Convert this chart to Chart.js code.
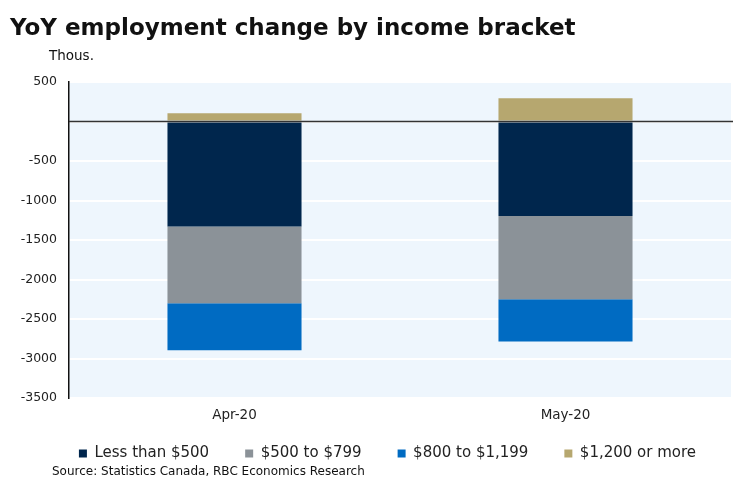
<!DOCTYPE html>
<html><head><meta charset="utf-8">
<script src="https://cdn.jsdelivr.net/npm/chart.js@4"></script>
<style>html,body{margin:0;padding:0;background:#fff;}canvas{display:block;}</style>
</head><body>
<canvas id="c" width="753" height="491"></canvas>
<script>
const categories = ["Apr-20", "May-20"];
const lessThan500 = [-1330, -1195];
const from500to799 = [-970, -1055];
const from800to1199 = [-595, -535];
const over1200 = [105, 293];
const yTicks = [500, 0, -500, -1000, -1500, -2000, -2500, -3000, -3500];

const FONT = "'DejaVu Sans', sans-serif";

const bgPlugin = {
  id: 'bg',
  beforeDraw(chart) {
    const {ctx, chartArea: a} = chart;
    ctx.save();
    ctx.fillStyle = '#EEF6FD';
    ctx.fillRect(a.left, a.top, a.right - a.left, a.bottom - a.top);
    ctx.restore();
  },
  afterDraw(chart) {
    const {ctx, chartArea: a, scales} = chart;
    ctx.save();
    const y0 = scales.y.getPixelForValue(0);
    ctx.strokeStyle = '#333';
    ctx.lineWidth = 1.5;
    ctx.beginPath(); ctx.moveTo(a.left, y0); ctx.lineTo(a.right + 2, y0); ctx.stroke();
    ctx.fillStyle = '#111';
    ctx.font = "bold 23px " + FONT;
    ctx.textBaseline = 'alphabetic';
    ctx.fillText('YoY employment change by income bracket', 10, 35);
    ctx.font = "13.5px " + FONT;
    ctx.fillText('Thous.', 49, 60);
    ctx.font = "12px " + FONT;
    ctx.fillText('Source: Statistics Canada, RBC Economics Research', 52, 475);
    ctx.restore();
  }
};

const chart = new Chart(document.getElementById('c'), {
  type: 'bar',
  data: {
    labels: categories,
    datasets: [
      {label: 'Less than $500', data: lessThan500, backgroundColor: '#00264D'},
      {label: '$500 to $799', data: from500to799, backgroundColor: '#8B9298'},
      {label: '$800 to $1,199', data: from800to1199, backgroundColor: '#006BC2'},
      {label: '$1,200 or more', data: over1200, backgroundColor: '#B6A76F'}
    ]
  },
  options: {
    responsive: false,
    animation: false,
    devicePixelRatio: 1,
    layout: {padding: {top: 82, right: 22, left: 0, bottom: 6}},
    datasets: {bar: {barPercentage: 0.405, categoryPercentage: 1, borderWidth: 0}},
    plugins: {
      title: {display: false},
      tooltip: {enabled: false},
      legend: {
        position: 'bottom',
        labels: {
          font: {family: FONT, size: 15}, color: '#222',
          boxWidth: 8, boxHeight: 8, padding: 36, useBorderRadius: false
        }
      }
    },
    scales: {
      x: {
        stacked: true,
        grid: {display: false, drawTicks: false},
        border: {display: false},
        ticks: {font: {family: FONT, size: 13.5}, color: '#222', padding: 9},
        afterFit(s) { s.height = 26; }
      },
      y: {
        stacked: true,
        min: -3500, max: 500,
        afterBuildTicks(s) { s.ticks = yTicks.map(v => ({value: v})); },
        ticks: {
          font: {family: FONT, size: 12.5}, color: '#222', padding: 12,
          callback: v => v === 0 ? '' : String(v)
        },
        grid: {color: '#FFFFFF', lineWidth: 2, drawTicks: false},
        border: {display: true, color: '#111', width: 1.5},
        afterFit(s) { s.width = 69; }
      }
    }
  },
  plugins: [bgPlugin]
});
// shift the library legend's drawing to match the reference placement
const legendDraw = chart.legend.draw.bind(chart.legend);
chart.legend.draw = function (area) {
  const c = this.ctx;
  c.save();
  c.translate(22, -14);
  legendDraw(area);
  c.restore();
};
chart.update();
</script>
</body></html>
